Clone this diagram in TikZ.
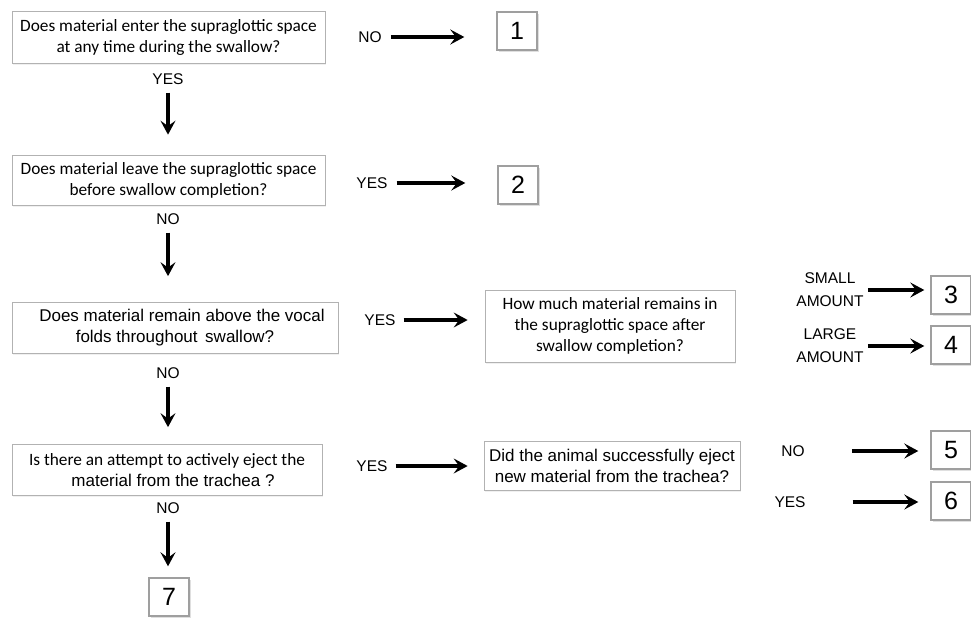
\documentclass[tikz,border=0pt]{standalone}
\usepackage{fontspec}
\setmainfont{Liberation Sans}
\newfontfamily\calibri{Carlito}
\usetikzlibrary{arrows.meta,shadows}

\tikzset{
    question/.style={draw=gray!60, line width=0.7pt, fill=white, align=center, inner sep=0pt,
        minimum width=313pt, minimum height=50pt, font=\calibri\fontsize{17.3}{21}\selectfont,
        drop shadow={opacity=0.12, shadow xshift=1pt, shadow yshift=-1.5pt}},
    questionsf/.style={question, font=\fontsize{17}{21}\selectfont},
    outcome/.style={draw=gray!75, line width=1.4pt, fill=white, minimum width=40pt, minimum height=38pt,
        inner sep=0pt, font=\fontsize{25}{25}\selectfont,
        drop shadow={opacity=0.25, shadow xshift=2pt, shadow yshift=-2pt}},
    answer/.style={align=center, inner sep=2pt, font=\fontsize{15.5}{23}\selectfont},
    flow/.style={-{Stealth[length=14pt,width=15pt,inset=5.5pt]}, line width=3.2pt}
}

\begin{document}
\begin{tikzpicture}[x=1pt, y=-1pt]
    \useasboundingbox (0,0) rectangle (971,621);

    % --- Row 1 ---
    \node[question, minimum height=52pt] (q1) at (168.5,37) {Does material enter the supraglottic space\\at any time during the swallow?};
    \node[answer] (no1) at (370,37) {NO};
    \node[outcome] (o1) at (517,31) {1};
    \node[answer] (yes1) at (168,79) {YES};
    \draw[flow, shorten <=7pt, shorten >=32pt] (no1.east) -- (no1.east -| o1.west);

    % --- Row 2 ---
    \node[question] (q2) at (168.5,180) {Does material leave the supraglottic space\\before swallow completion?};
    \node[answer] (yes2) at (372,183) {YES};
    \node[outcome] (o2) at (518,185) {2};
    \node[answer] (no2) at (168,219) {NO};
    \draw[flow, shorten <=6pt, shorten >=20pt] (yes1.south) -- (yes1.south |- q2.north);
    \draw[flow, shorten <=7pt, shorten >=32pt] (yes2.east) -- (yes2.east -| o2.west);

    % --- Row 3 ---
    \node[questionsf, minimum width=326pt, minimum height=51pt] (q3) at (175,328) {\hspace*{14pt}Does material remain above the vocal\\folds throughout\ \,swallow?};
    \node[answer] (yes3) at (380,320) {YES};
    \node[question, minimum width=250pt, minimum height=72pt] (q3b) at (610,326) {How much material remains in\\the supraglottic space after\\swallow completion?};
    \node[answer] (small) at (830,290) {SMALL\\AMOUNT};
    \node[outcome] (o3) at (951,295) {3};
    \node[answer] (large) at (830,346) {LARGE\\AMOUNT};
    \node[outcome] (o4) at (951,345) {4};
    \node[answer] (no3) at (168,373) {NO};
    \draw[flow, shorten <=6pt, shorten >=26pt] (no2.south) -- (no2.south |- q3.north);
    \draw[flow, shorten <=6pt, shorten >=17pt] (yes3.east) -- (yes3.east -| q3b.west);
    \draw[flow, shorten <=2pt, shorten >=6pt] (small.east) -- (small.east -| o3.west);
    \draw[flow, shorten <=2pt, shorten >=6pt] (large.east) -- (large.east -| o4.west);

    % --- Row 4 ---
    \node[question, minimum width=310pt, minimum height=51pt] (q4) at (167,470) {Is there an attempt to actively eject the\\{\rmfamily\fontsize{17}{21}\selectfont\hspace*{12pt}material from the trachea ?}};
    \node[answer] (yes4) at (372,466) {YES};
    \node[questionsf, minimum width=256pt, minimum height=49pt] (q4b) at (612,466) {Did the animal successfully eject\\new material from the trachea?};
    \node[answer] (no5) at (793,451) {NO};
    \node[outcome] (o5) at (951,450) {5};
    \node[answer] (yes6) at (790,502) {YES};
    \node[outcome] (o6) at (951,501) {6};
    \node[answer] (no4) at (168,508) {NO};
    \draw[flow, shorten <=6pt, shorten >=17pt] (no3.south) -- (no3.south |- q4.north);
    \draw[flow, shorten <=6pt, shorten >=16pt] (yes4.east) -- (yes4.east -| q4b.west);
    \draw[flow, shorten <=45pt, shorten >=12pt] (no5.east) -- (no5.east -| o5.west);
    \draw[flow, shorten <=45pt, shorten >=12pt] (yes6.east) -- (yes6.east -| o6.west);

    % --- End ---
    \node[outcome] (o7) at (169,597) {7};
    \draw[flow, shorten <=6pt, shorten >=11pt] (no4.south) -- (no4.south |- o7.north);
\end{tikzpicture}
\end{document}
